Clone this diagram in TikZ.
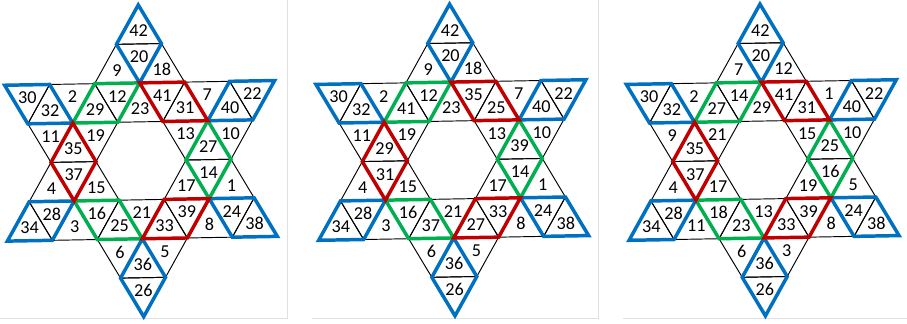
\documentclass[tikz,border=0pt]{standalone}
\usepackage{fontspec}
\setmainfont{Carlito}
\definecolor{starblue}{HTML}{0070C0}
\definecolor{starred}{HTML}{C00000}
\definecolor{stargreen}{HTML}{00B050}
\tikzset{
  tricell/.style={draw=black, line width=0.6pt, line join=round},
  trinum/.style={font=\fontsize{11.5}{11.5}\selectfont, inner sep=0pt},
  bluepair/.style={draw=starblue, line width=2.2pt},
  redpair/.style={draw=starred, line width=2.2pt},
  greenpair/.style={draw=stargreen, line width=2.2pt},
  panelrule/.style={draw=black!12, line width=0.6pt},
  starframe/.style={rotate=1, y=0.866cm}
}
\newcommand{\startri}[4]{%
  \ifodd\numexpr#2+#3+20\relax
    \draw[tricell] ({#2/2-0.5},{4-#3}) -- ++(1,0) -- ++(-0.5,-1) -- cycle;
    \node[trinum] (#1-#4) at ({#2/2},{4-#3-1/3}) {#4};
  \else
    \draw[tricell] ({#2/2},{4-#3}) -- ++(0.5,-1) -- ++(-1,0) -- cycle;
    \node[trinum] (#1-#4) at ({#2/2},{4-#3-2/3}) {#4};
  \fi}
\newcommand{\starpairs}{%
  \draw[bluepair] (0,4) -- (-0.5,3) -- (0,2) -- (0.5,3) -- cycle;
  \draw[bluepair] (0,-2) -- (-0.5,-3) -- (0,-4) -- (0.5,-3) -- cycle;
  \draw[bluepair] (-3,2) -- (-2,2) -- (-1.5,1) -- (-2.5,1) -- cycle;
  \draw[bluepair] (2,2) -- (3,2) -- (2.5,1) -- (1.5,1) -- cycle;
  \draw[bluepair] (-3,-2) -- (-2.5,-1) -- (-1.5,-1) -- (-2,-2) -- cycle;
  \draw[bluepair] (1.5,-1) -- (2.5,-1) -- (3,-2) -- (2,-2) -- cycle;
  \draw[greenpair] (-1,2) -- (0,2) -- (-0.5,1) -- (-1.5,1) -- cycle;
  \draw[greenpair] (1.5,1) -- (2,0) -- (1.5,-1) -- (1,0) -- cycle;
  \draw[greenpair] (-1.5,-1) -- (-0.5,-1) -- (0,-2) -- (-1,-2) -- cycle;
  \draw[redpair] (0,2) -- (1,2) -- (1.5,1) -- (0.5,1) -- cycle;
  \draw[redpair] (-1.5,1) -- (-1,0) -- (-1.5,-1) -- (-2,0) -- cycle;
  \draw[redpair] (0.5,-1) -- (1.5,-1) -- (1,-2) -- (0,-2) -- cycle;
}

\begin{document}
\begin{tikzpicture}
\useasboundingbox (0,0) rectangle (20.156,7.178);
\draw[panelrule] (6.389,7.178) -- (6.389,0.111) -- (0,0.111);
\draw[panelrule] (6.933,0.111) -- (13.289,0.111) -- (13.289,7.178);
\draw[panelrule] (13.844,0.111) -- (20.156,0.111);

\begin{scope}[shift={(3.133,3.604)}, starframe]
\foreach \k/\r/\n in {0/0/42, -1/1/9, 0/1/20, 1/1/18,
  -5/2/30, -4/2/32, -3/2/2, -2/2/29, -1/2/12, 0/2/23, 1/2/41, 2/2/31, 3/2/7, 4/2/40, 5/2/22,
  -4/3/11, -3/3/35, -2/3/19, 2/3/13, 3/3/27, 4/3/10,
  -4/4/4, -3/4/37, -2/4/15, 2/4/17, 3/4/14, 4/4/1,
  -5/5/34, -4/5/28, -3/5/3, -2/5/16, -1/5/25, 0/5/21, 1/5/33, 2/5/39, 3/5/8, 4/5/24, 5/5/38,
  -1/6/6, 0/6/36, 1/6/5, 0/7/26}
  {\startri{a}{\k}{\r}{\n}}
\starpairs
\end{scope}

\begin{scope}[shift={(10.051,3.622)}, starframe]
\foreach \k/\r/\n in {0/0/42, -1/1/9, 0/1/20, 1/1/18,
  -5/2/30, -4/2/32, -3/2/2, -2/2/41, -1/2/12, 0/2/23, 1/2/35, 2/2/25, 3/2/7, 4/2/40, 5/2/22,
  -4/3/11, -3/3/29, -2/3/19, 2/3/13, 3/3/39, 4/3/10,
  -4/4/4, -3/4/31, -2/4/15, 2/4/17, 3/4/14, 4/4/1,
  -5/5/34, -4/5/28, -3/5/3, -2/5/16, -1/5/37, 0/5/21, 1/5/27, 2/5/33, 3/5/8, 4/5/24, 5/5/38,
  -1/6/6, 0/6/36, 1/6/5, 0/7/26}
  {\startri{b}{\k}{\r}{\n}}
\starpairs
\end{scope}

\begin{scope}[shift={(16.949,3.622)}, starframe]
\foreach \k/\r/\n in {0/0/42, -1/1/7, 0/1/20, 1/1/12,
  -5/2/30, -4/2/32, -3/2/2, -2/2/27, -1/2/14, 0/2/29, 1/2/41, 2/2/31, 3/2/1, 4/2/40, 5/2/22,
  -4/3/9, -3/3/35, -2/3/21, 2/3/15, 3/3/25, 4/3/10,
  -4/4/4, -3/4/37, -2/4/17, 2/4/19, 3/4/16, 4/4/5,
  -5/5/34, -4/5/28, -3/5/11, -2/5/18, -1/5/23, 0/5/13, 1/5/33, 2/5/39, 3/5/8, 4/5/24, 5/5/38,
  -1/6/6, 0/6/36, 1/6/3, 0/7/26}
  {\startri{c}{\k}{\r}{\n}}
\starpairs
\end{scope}
\end{tikzpicture}
\end{document}
